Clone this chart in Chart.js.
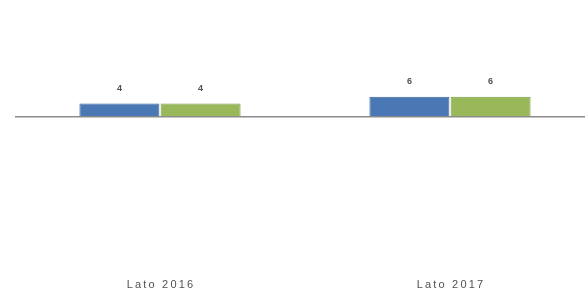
<!DOCTYPE html>
<html>
<head>
<meta charset="utf-8">
<script src="https://cdn.jsdelivr.net/npm/chart.js@4/dist/chart.umd.min.js"></script>
<style>
html,body{margin:0;padding:0;background:#fff;overflow:hidden;}
#wrap{position:absolute;left:0;top:0;width:595px;height:293px;}
</style>
</head>
<body>
<div id="wrap"><canvas id="c" width="595" height="293"></canvas></div>
<script>
const categories = ["Lato 2016", "Lato 2017"];
const seriesA = [4, 6];
const seriesB = [4, 6];
const yMin = -45, yMax = 32;

const labelPlugin = {
  id: 'vals',
  afterDatasetsDraw(chart) {
    const ctx = chart.ctx;
    ctx.save();
    ctx.font = 'bold 9px "Liberation Sans", Arial, sans-serif';
    ctx.fillStyle = '#505050';
    ctx.textAlign = 'center';
    ctx.textBaseline = 'middle';
    chart.data.datasets.forEach((ds, i) => {
      chart.getDatasetMeta(i).data.forEach((el, j) => {
        ctx.fillText(String(ds.data[j]), el.x, el.y - 15);
      });
    });
    const xs = chart.scales.x;
    ctx.font = '11px "Liberation Sans", Arial, sans-serif';
    ctx.fillStyle = '#505050';
    if ('letterSpacing' in ctx) ctx.letterSpacing = '2.2px';
    chart.data.labels.forEach((lab, j) => {
      ctx.fillText(lab, xs.getPixelForTick(j) + 1, chart.chartArea.bottom + 16);
    });
    ctx.restore();
  }
};

new Chart(document.getElementById('c'), {
  type: 'bar',
  data: {
    labels: categories,
    datasets: [
      { data: seriesA, backgroundColor: '#4a78b5', borderColor: '#3b6499', borderWidth: 1 },
      { data: seriesB, backgroundColor: '#98b85a', borderColor: '#7f9c48', borderWidth: 1 }
    ]
  },
  options: {
    responsive: false,
    animation: false,
    layout: { padding: { top: 9, left: 15, right: 0, bottom: 16 } },
    plugins: { legend: { display: false }, tooltip: { enabled: false } },
    datasets: { bar: { categoryPercentage: 0.56, barPercentage: 0.985 } },
    scales: {
      x: {
        grid: { display: false },
        border: { display: false },
        ticks: { display: false }
      },
      y: {
        display: true,
        min: yMin, max: yMax,
        afterFit(s) { s.width = 0; },
        ticks: { display: false, stepSize: 1 },
        border: { display: false },
        grid: {
          color: (c) => c.tick && c.tick.value === 0 ? '#8c8c8c' : 'rgba(0,0,0,0)',
          lineWidth: 1.5,
          drawTicks: false
        }
      }
    }
  },
  plugins: [labelPlugin]
});
</script>
</body>
</html>
